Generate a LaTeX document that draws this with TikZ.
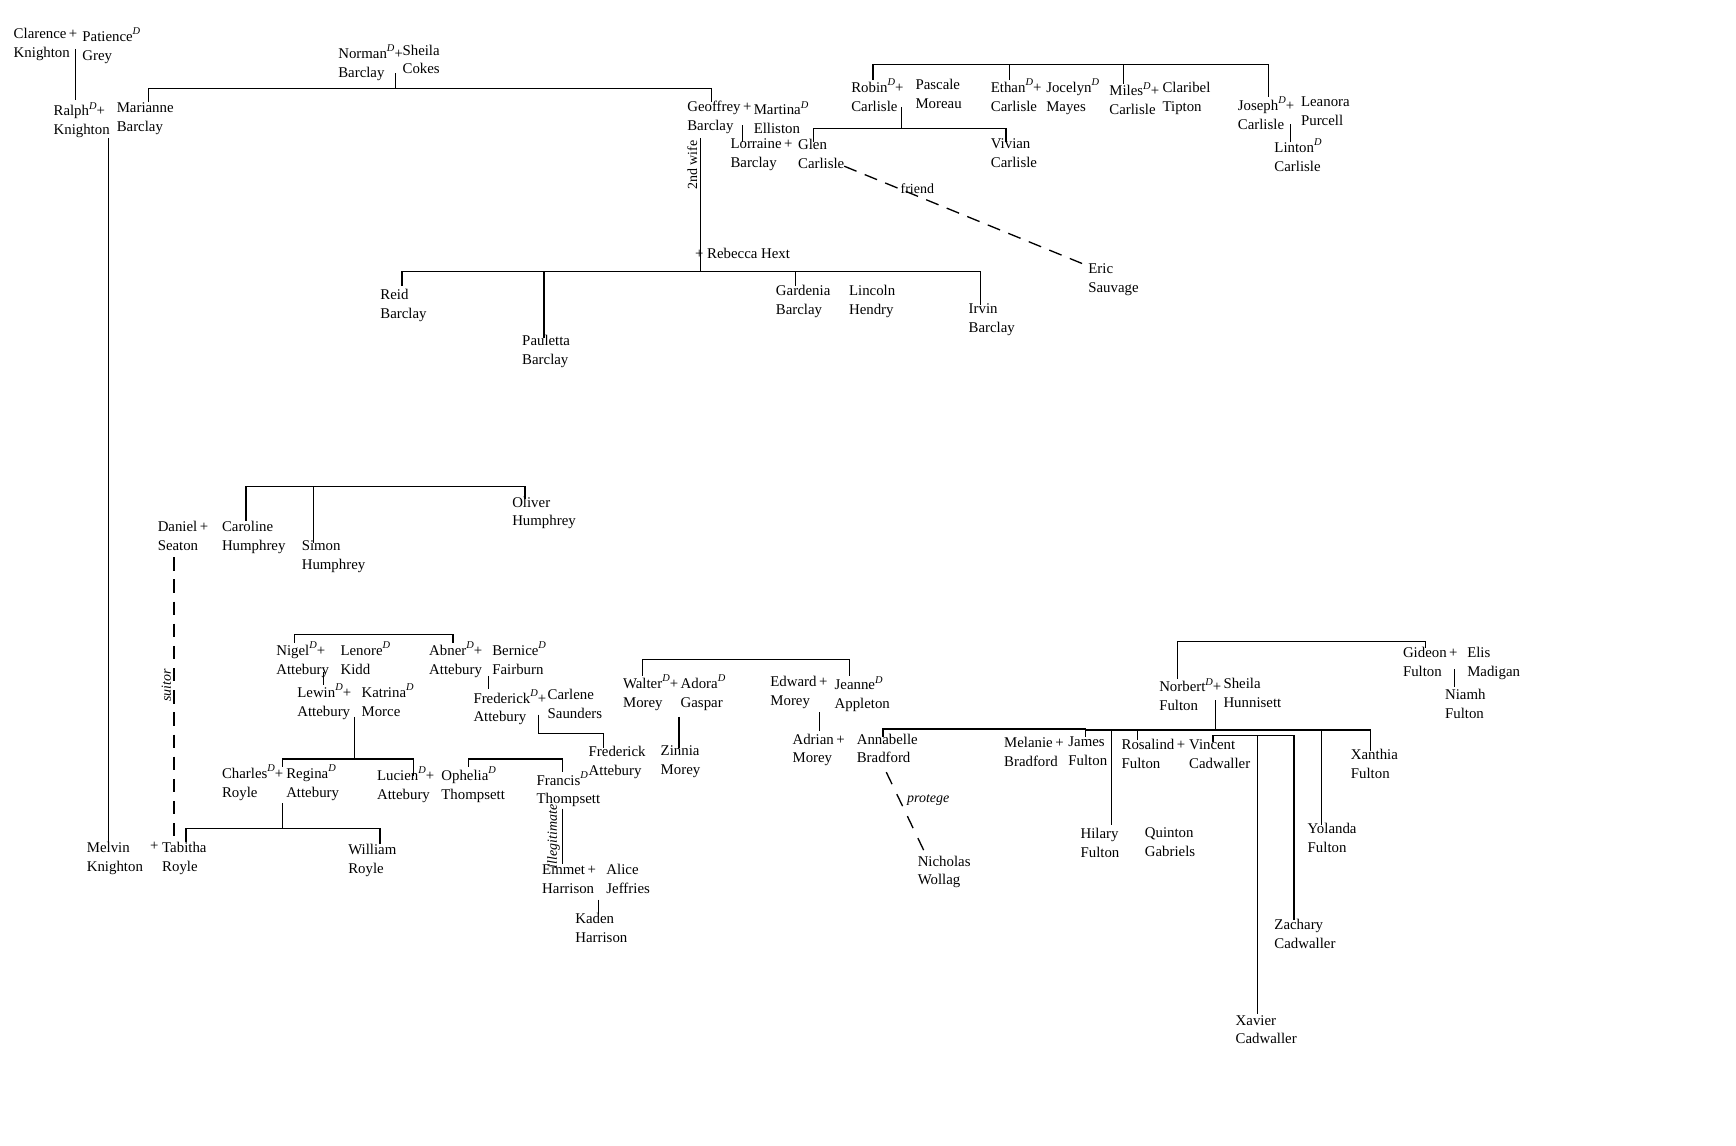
\documentclass[tikz,border=0pt]{standalone}
\usepackage{fontspec}
\setmainfont{Liberation Serif}
\newcommand{\Dd}{\textsuperscript{\textit{D}}\kern-1.6pt}
\begin{document}
\begin{tikzpicture}[x=0.5pt,y=-0.5pt,
  pn/.style={anchor=north west,inner sep=0pt,align=left,font=\fontsize{6.7}{8.5}\selectfont},
  lbl/.style={inner sep=1pt,font=\fontsize{6.3}{7}\selectfont},
  ln/.style={line width=0.6pt}]
\useasboundingbox (0,0) rectangle (1567,1034);
\newcommand{\Pn}[4]{\node[pn] (#1) at (#2) {#3\\#4};}
\newcommand{\Pp}[4]{\node[pn] (#1) at (#2) {#3\,+\\#4};}
% Knighton
\Pp{clarence}{12,25}{Clarence}{Knighton}\Pn{patience}{74,25}{Patience\Dd}{Grey}
\Pp{ralph}{48,92}{Ralph\Dd}{Knighton}\Pn{marianne}{105,92}{Marianne}{Barclay}
\Pp{norman}{305,40}{Norman\Dd}{Barclay}\Pn{sheila}{363,40}{Sheila}{Cokes}
\Pp{geoffrey}{620,91}{Geoffrey}{Barclay}\Pn{martina}{680,91}{Martina\Dd}{Elliston}
\Pp{lorraine}{659,125}{Lorraine}{Barclay}\Pn{glen}{720,125}{Glen}{Carlisle}
\Pp{robin}{768,71}{Robin\Dd}{Carlisle}\Pn{pascale}{826,71}{Pascale}{Moreau}
\Pp{ethan}{894,71}{Ethan\Dd}{Carlisle}\Pn{jocelyn}{944,71}{Jocelyn\Dd}{Mayes}
\Pp{miles}{1001,74}{Miles\Dd}{Carlisle}\Pn{claribel}{1049,74}{Claribel}{Tipton}
\Pp{joseph}{1117,87}{Joseph\Dd}{Carlisle}\Pn{leanora}{1174,87}{Leanora}{Purcell}
\Pn{linton}{1150,125}{Linton\Dd}{Carlisle}
\Pn{vivian}{894,125}{Vivian}{Carlisle}
\Pn{eric}{982,238}{Eric}{Sauvage}
\node[pn] (rebecca) at (627,224) {+ Rebecca Hext};
\Pn{reid}{343,261}{Reid}{Barclay}
\Pn{pauletta}{471,302}{Pauletta}{Barclay}
\Pn{gardenia}{700,257}{Gardenia}{Barclay}
\Pn{lincoln}{766,257}{Lincoln}{Hendry}
\Pn{irvin}{874,274}{Irvin}{Barclay}
% lines top
\draw[ln] (68,44) -- (68,90);
\draw[ln] (357,66) -- (357,80);
\draw[ln] (134,92) |- (642,80) -- (642,92);
\draw[ln] (98,125) -- (98,762);
\draw[ln] (670,113) -- (670,128);
\draw[ln] (788,72) |- (1145,58) -- (1145,88);
\draw[ln] (911,58) -- (911,72); \draw[ln] (1014,58) -- (1014,76);
\draw[ln] (814,97) -- (814,116);
\draw[ln] (734,128) |- (908,116) -- (908,128);
\draw[ln] (1165,112) -- (1165,128);
\draw[ln,dashed,dash pattern=on 6pt off 4pt] (762,150) -- node[lbl,pos=0.3,above] {friend} (982,240);
\draw[ln] (632,125) -- node[lbl,pos=0.2,rotate=90,above] {2nd wife} (632,245);
\draw[ln] (363,258) |- (885,245) -- (885,275);
\draw[ln] (491,245) -- (491,305);
\draw[ln] (718,245) -- (718,258);
% Humphrey
\Pp{daniel}{142,470}{Daniel}{Seaton}\Pn{caroline}{200,470}{Caroline}{Humphrey}
\Pn{simon}{272,488}{Simon}{Humphrey}
\Pn{oliver}{462,448}{Oliver}{Humphrey}
\draw[ln] (222,470) |- (474,439) -- (474,450);
\draw[ln] (283,439) -- (283,490);
\draw[ln,dashed,dash pattern=on 6pt off 4pt] (157,503) -- node[lbl,pos=0.45,rotate=90,above] {\itshape suitor} (157,760);
\Pn{melvin}{78,760}{Melvin}{Knighton}\node[pn] at (135,760) {+};\Pn{tabitha}{146,760}{Tabitha}{Royle}
\Pn{william}{314,762}{William}{Royle}
% Attebury
\Pp{nigel}{249,579}{Nigel\Dd}{Attebury}\Pn{lenore}{307,579}{Lenore\Dd}{Kidd}
\Pp{abner}{387,579}{Abner\Dd}{Attebury}\Pn{bernice}{444,579}{Bernice\Dd}{Fairburn}
\Pp{lewin}{268,617}{Lewin\Dd}{Attebury}\Pn{katrina}{326,617}{Katrina\Dd}{Morce}
\Pp{frederick}{427,622}{Frederick\Dd}{Attebury}\Pn{carlene}{494,622}{Carlene}{Saunders}
\Pn{fredjr}{531,673}{Frederick}{Attebury}
\Pp{charles}{200,690}{Charles\Dd}{Royle}\Pn{regina}{258,690}{Regina\Dd}{Attebury}
\Pp{lucien}{340,692}{Lucien\Dd}{Attebury}\Pn{ophelia}{398,692}{Ophelia\Dd}{Thompsett}
\Pn{francis}{484,696}{Francis\Dd}{Thompsett}
\Pp{emmet}{489,780}{Emmet}{Harrison}\Pn{alice}{547,780}{Alice}{Jeffries}
\Pn{kaden}{519,824}{Kaden}{Harrison}
\draw[ln] (266,580) |- (409,573) -- (409,580);
\draw[ln] (292,607) -- (292,618);
\draw[ln] (320,647) -- (320,685);
\draw[ln] (255,692) |- (373,685) -- (373,700);
\draw[ln] (441,610) -- (441,622);
\draw[ln] (486,645) |- (545,662) -- (545,675);
\draw[ln] (423,692) |- (508,685) -- (508,697);
\draw[ln] (255,725) -- (255,748);
\draw[ln] (168,760) |- (343,748) -- (343,762);
\draw[ln] (508,730) -- node[lbl,rotate=90,above,pos=0.5] {\itshape illegitimate} (508,780);
\draw[ln] (540,812) -- (540,825);
% Morey
\Pp{walter}{562,609}{Walter\Dd}{Morey}\Pn{adora}{614,609}{Adora\Dd}{Gaspar}
\Pp{edward}{695,610}{Edward}{Morey}\Pn{jeanne}{753,610}{Jeanne\Dd}{Appleton}
\Pn{zinnia}{596,673}{Zinnia}{Morey}
\Pp{adrian}{715,662}{Adrian}{Morey}\Pn{annabelle}{773,662}{Annabelle}{Bradford}
\Pp{melanie}{906,665}{Melanie}{Bradford}\Pn{james}{964,665}{James}{Fulton}
\Pn{nicholas}{828,772}{Nicholas}{Wollag}
\draw[ln] (580,610) |- (767,595) -- (767,610);
\draw[ln] (613,647) -- (613,675);
\draw[ln] (740,643) -- (740,660);
\draw[ln] (797,665) |- (980,658) -- (980,665);
\draw[ln,dashed,dash pattern=on 6pt off 5pt] (800,697) -- node[lbl,pos=0.35,right,xshift=2pt] {\itshape protege} (835,770);
% Fulton
\Pp{norbert}{1046,612}{Norbert\Dd}{Fulton}\Pn{sheila2}{1104,612}{Sheila}{Hunnisett}
\Pp{gideon}{1266,584}{Gideon}{Fulton}\Pn{elis}{1324,584}{Elis}{Madigan}
\Pn{niamh}{1304,622}{Niamh}{Fulton}
\Pp{rosalind}{1012,667}{Rosalind}{Fulton}\Pn{vincent}{1073,667}{Vincent}{Cadwaller}
\Pn{xanthia}{1219,676}{Xanthia}{Fulton}
\Pn{hilary}{975,747}{Hilary}{Fulton}
\Pn{quinton}{1033,747}{Quinton}{Gabriels}
\Pn{yolanda}{1180,743}{Yolanda}{Fulton}
\Pn{zachary}{1150,829}{Zachary}{Cadwaller}
\Pn{xavier}{1115,916}{Xavier}{Cadwaller}
\draw[ln] (1063,613) |- (1287,579) -- (1287,585);
\draw[ln] (1313,604) -- (1313,620);
\draw[ln] (1097,632) -- (1097,659);
\draw[ln] (980,659) -- (1237,659) -- (1237,678);
\draw[ln] (1003,659) -- (1003,745);
\draw[ln] (1027,659) -- (1027,668);
\draw[ln] (1193,659) -- (1193,745);
\draw[ln] (1095,670) |- (1168,664) -- (1168,830);
\draw[ln] (1135,664) -- (1135,915);
\end{tikzpicture}
\end{document}
